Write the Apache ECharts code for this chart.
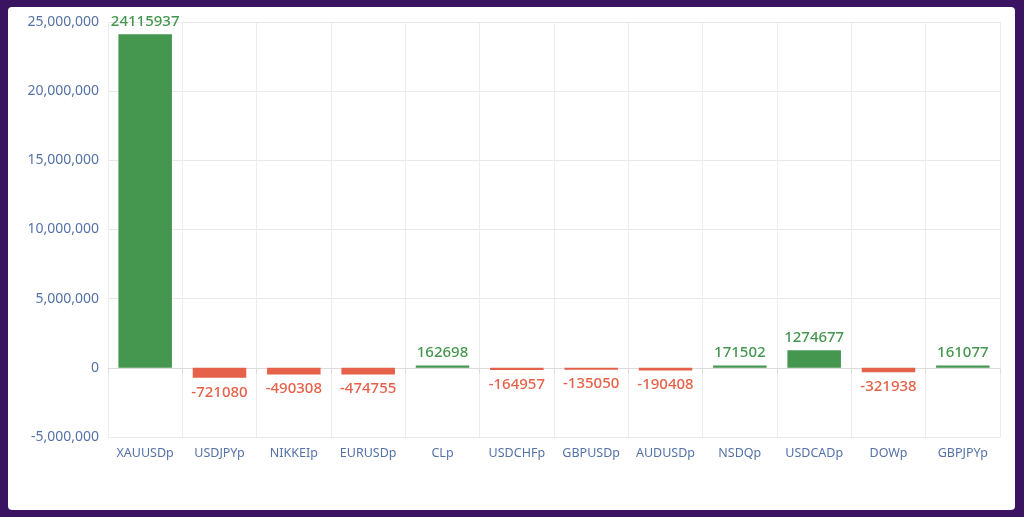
<!DOCTYPE html>
<html>
<head>
<meta charset="utf-8">
<script src="https://cdn.jsdelivr.net/npm/echarts@6/dist/echarts.min.js"></script>
<style>
  html, body { margin:0; padding:0; width:1024px; height:517px; background:#3b1461; overflow:hidden; }
  #panel { position:absolute; left:8px; top:7px; width:1007px; height:503px; background:#fff; border-radius:4px; }
  #chart { position:absolute; left:0; top:0; width:1024px; height:517px; }
</style>
</head>
<body>
<div id="panel"></div>
<div id="chart"></div>
<script>
const categories = ['XAUUSDp','USDJPYp','NIKKEIp','EURUSDp','CLp','USDCHFp','GBPUSDp','AUDUSDp','NSDQp','USDCADp','DOWp','GBPJPYp'];
const values = [24115937,-721080,-490308,-474755,162698,-164957,-135050,-190408,171502,1274677,-321938,161077];
const GREEN = '#45964f';
const RED = '#e6614a';
const FONT = 'Noto Sans';

const chart = echarts.init(document.getElementById('chart'));
chart.setOption({
  backgroundColor: 'transparent',
  animation: false,
  grid: { left: 108, right: 24, top: 22, bottom: 80 },
  xAxis: {
    type: 'category',
    data: categories,
    axisLine: { lineStyle: { color: '#dcdcdc' } },
    axisTick: { show: true, length: 6, interval: 0, lineStyle: { color: '#dcdcdc' } },
    splitLine: { show: true, interval: 0, lineStyle: { color: '#ececec' } },
    axisLabel: { interval: 0, color: '#5572a8', fontSize: 12.5, margin: 10, fontFamily: FONT }
  },
  yAxis: {
    type: 'value',
    min: -5000000,
    max: 25000000,
    interval: 5000000,
    axisLine: { show: false },
    axisTick: { show: false },
    splitLine: { lineStyle: { color: '#e8e8e8' } },
    axisLabel: {
      color: '#5572a8', fontSize: 14, margin: 9, fontFamily: FONT,
      formatter: v => v.toLocaleString('en-US')
    }
  },
  series: [{
    type: 'bar',
    barWidth: '72%',
    data: values.map(v => ({
      value: v,
      itemStyle: { color: v >= 0 ? GREEN : RED },
      label: {
        show: true,
        position: v >= 0 ? 'top' : 'bottom',
        color: v >= 0 ? GREEN : RED,
        fontSize: 15,
        fontWeight: 500,
        fontFamily: FONT,
        distance: v >= 0 ? 5 : 7
      }
    }))
  }]
});
</script>
</body>
</html>
